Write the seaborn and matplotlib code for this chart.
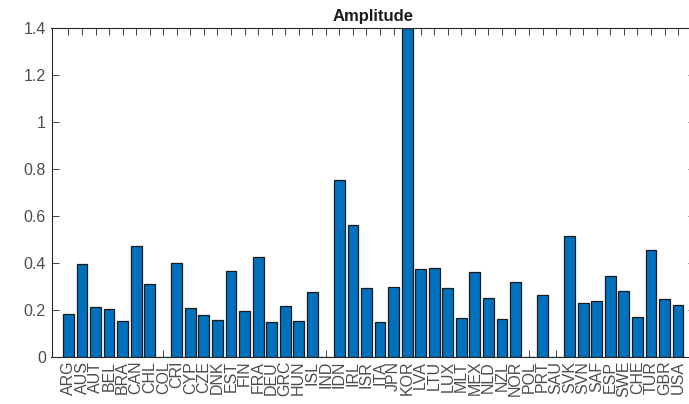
import matplotlib
matplotlib.use("Agg")
import matplotlib.pyplot as plt
import seaborn as sns
import pandas as pd
from matplotlib.ticker import FuncFormatter, FixedLocator

categories = ["ARG", "AUS", "AUT", "BEL", "BRA", "CAN", "CHL", "COL", "CRI", "CYP",
              "CZE", "DNK", "EST", "FIN", "FRA", "DEU", "GRC", "HUN", "ISL", "IND",
              "IDN", "IRL", "ISR", "ITA", "JPN", "KOR", "LVA", "LTU", "LUX", "MLT",
              "MEX", "NLD", "NZL", "NOR", "POL", "PRT", "SAU", "SVK", "SVN", "SAF",
              "ESP", "SWE", "CHE", "TUR", "GBR", "USA"]
amplitude = [0.180, 0.394, 0.211, 0.204, 0.150, 0.471, 0.308, 0.0, 0.400, 0.206,
             0.176, 0.155, 0.365, 0.196, 0.423, 0.148, 0.216, 0.150, 0.274, 0.0,
             0.753, 0.563, 0.292, 0.146, 0.295, 1.40, 0.373, 0.376, 0.291, 0.163,
             0.359, 0.252, 0.162, 0.319, 0.0, 0.261, 0.0, 0.515, 0.228, 0.238,
             0.343, 0.281, 0.169, 0.454, 0.245, 0.221]
yticks = [0, 0.2, 0.4, 0.6, 0.8, 1.0, 1.2, 1.4]
title = "Amplitude"

sns.set_style("ticks")
plt.rcParams["font.family"] = ["Liberation Sans", "DejaVu Sans"]

df = pd.DataFrame({"country": categories, "value": amplitude})

fig = plt.figure(figsize=(6.89, 4.04), dpi=100)
ax = fig.add_axes([51.5 / 689, 47.3 / 404, (695 - 51.5) / 689, (356.7 - 28) / 404])

sns.barplot(data=df, x="country", y="value", order=categories, color="#0072BD",
            saturation=1, width=0.8, edgecolor="#1a1a1a", linewidth=0.9, ax=ax)

axcol = "#262626"
ax.set_xlim(-1.25, 46.25)
ax.set_ylim(0, 1.4)
ax.yaxis.set_major_locator(FixedLocator(yticks))
ax.yaxis.set_major_formatter(FuncFormatter(lambda v, p: f"{v:g}"))
ax.set_xlabel("")
ax.set_ylabel("")
ax.set_title(title, fontsize=12, fontweight="bold", color="#1a1a1a", pad=5)

for s in ["left", "right", "top", "bottom"]:
    ax.spines[s].set_visible(True)
    ax.spines[s].set_color(axcol)
    ax.spines[s].set_linewidth(0.8)

ax.tick_params(axis="x", direction="in", length=5, width=0.6, top=True, bottom=True,
               labelrotation=90, labelsize=11.5, colors=axcol, pad=3)
ax.tick_params(axis="y", direction="in", length=5, width=0.6, left=True, right=True,
               labelsize=11.5, colors=axcol, pad=4)
for lbl in ax.get_xticklabels() + ax.get_yticklabels():
    lbl.set_color("#4d4d4d")

fig.savefig("out.png", dpi=100)
